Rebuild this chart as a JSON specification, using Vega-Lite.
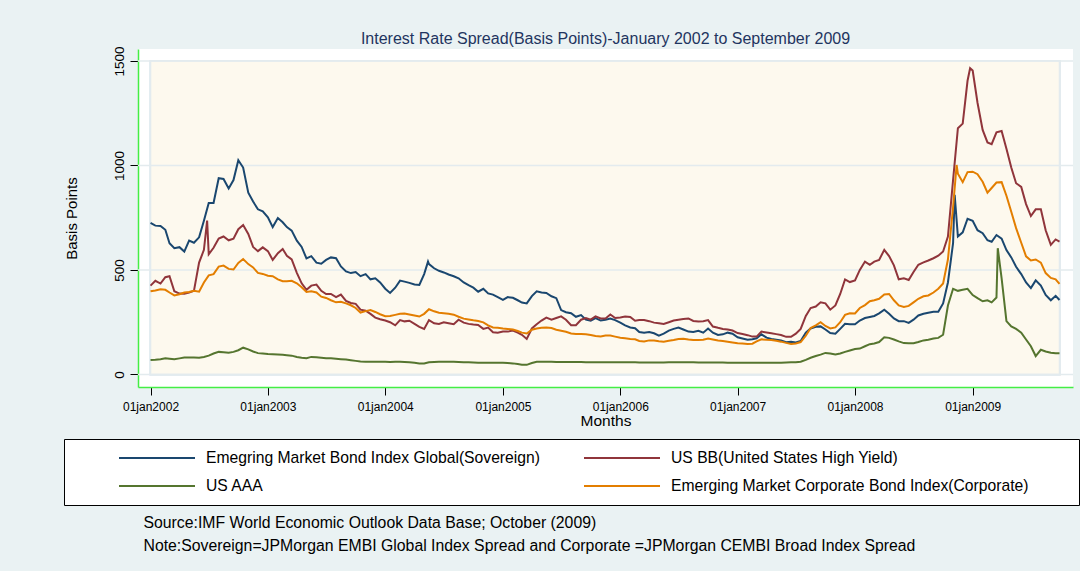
{
"$schema": "https://vega.github.io/schema/vega-lite/v6.json",
"width": 935, "height": 338,
"autosize": {"type": "none"},
"padding": {"left": 138, "top": 49, "right": 7, "bottom": 184},
"background": "#eaf2f3",
"title": {"text": "Interest Rate Spread(Basis Points)-January 2002 to September 2009", "fontSize": 16, "fontWeight": "normal", "color": "#1f3560", "font": "Liberation Sans", "anchor": "middle", "offset": -1},
"config": {"font": "Liberation Sans", "view": {"stroke": null, "fill": "white"}},
"data": {"values": [
{"d":"2002-01-01","e":725,"b":425,"a":69,"c":398},{"d":"2002-01-16","e":712,"b":448,"a":70,"c":402},
{"d":"2002-02-01","e":710,"b":435,"a":73,"c":408},{"d":"2002-02-16","e":692,"b":465,"a":77,"c":405},
{"d":"2002-03-01","e":628,"b":470,"a":75,"c":392},{"d":"2002-03-16","e":604,"b":398,"a":73,"c":378},
{"d":"2002-04-01","e":609,"b":387,"a":77,"c":384},{"d":"2002-04-16","e":588,"b":386,"a":81,"c":392},
{"d":"2002-05-01","e":640,"b":392,"a":81,"c":395},{"d":"2002-05-16","e":630,"b":400,"a":81,"c":400},
{"d":"2002-06-01","e":656,"b":535,"a":80,"c":396},{"d":"2002-06-16","e":735,"b":596,"a":84,"c":440},
{"d":"2002-06-26","b":736},
{"d":"2002-07-01","e":820,"b":575,"a":90,"c":474},{"d":"2002-07-16","e":820,"b":606,"a":100,"c":480},
{"d":"2002-08-01","e":939,"b":650,"a":108,"c":516},{"d":"2002-08-16","e":935,"b":660,"a":106,"c":521},
{"d":"2002-09-01","e":890,"b":642,"a":104,"c":505},{"d":"2002-09-16","e":930,"b":650,"a":108,"c":502},
{"d":"2002-10-01","e":1025,"b":695,"a":116,"c":534},{"d":"2002-10-16","e":990,"b":715,"a":128,"c":552},
{"d":"2002-11-01","e":870,"b":672,"a":120,"c":528},{"d":"2002-11-16","e":827,"b":610,"a":110,"c":512},
{"d":"2002-12-01","e":790,"b":590,"a":102,"c":486},{"d":"2002-12-16","e":780,"b":608,"a":100,"c":481},
{"d":"2003-01-01","e":752,"b":590,"a":98,"c":472},{"d":"2003-01-16","e":705,"b":548,"a":97,"c":470},
{"d":"2003-02-01","e":748,"b":580,"a":96,"c":455},{"d":"2003-02-16","e":728,"b":600,"a":94,"c":446},
{"d":"2003-03-01","e":705,"b":568,"a":92,"c":446},{"d":"2003-03-16","e":688,"b":550,"a":90,"c":448},
{"d":"2003-04-01","e":640,"b":486,"a":84,"c":436},{"d":"2003-04-16","e":610,"b":436,"a":80,"c":417},
{"d":"2003-05-01","e":555,"b":405,"a":78,"c":395},{"d":"2003-05-16","e":566,"b":425,"a":84,"c":398},
{"d":"2003-06-01","e":535,"b":430,"a":82,"c":392},{"d":"2003-06-16","e":530,"b":400,"a":80,"c":372},
{"d":"2003-07-01","e":548,"b":385,"a":78,"c":366},{"d":"2003-07-16","e":560,"b":385,"a":77,"c":355},
{"d":"2003-08-01","e":556,"b":370,"a":75,"c":345},{"d":"2003-08-16","e":517,"b":382,"a":73,"c":348},
{"d":"2003-09-01","e":493,"b":352,"a":71,"c":340},{"d":"2003-09-16","e":485,"b":342,"a":68,"c":331},
{"d":"2003-10-01","e":490,"b":338,"a":65,"c":318},{"d":"2003-10-16","e":470,"b":310,"a":62,"c":296},
{"d":"2003-11-01","e":480,"b":305,"a":61,"c":303},{"d":"2003-11-16","e":455,"b":290,"a":61,"c":308},
{"d":"2003-12-01","e":460,"b":272,"a":61,"c":299},{"d":"2003-12-16","e":440,"b":264,"a":61,"c":288},
{"d":"2004-01-01","e":410,"b":258,"a":61,"c":279},{"d":"2004-01-16","e":390,"b":250,"a":60,"c":280},
{"d":"2004-02-01","e":415,"b":235,"a":61,"c":285},{"d":"2004-02-16","e":449,"b":260,"a":61,"c":290},
{"d":"2004-03-01","e":444,"b":254,"a":60,"c":292},{"d":"2004-03-16","e":438,"b":257,"a":58,"c":287},
{"d":"2004-04-01","e":430,"b":242,"a":56,"c":282},{"d":"2004-04-16","e":428,"b":228,"a":53,"c":277},
{"d":"2004-05-01","e":480,"b":218,"a":52,"c":290},{"d":"2004-05-13","e":540},{"d":"2004-05-16","e":528,"b":260,"a":58,"c":312},
{"d":"2004-06-01","e":508,"b":245,"a":60,"c":302},{"d":"2004-06-16","e":496,"b":242,"a":61,"c":295},
{"d":"2004-07-01","e":488,"b":250,"a":61,"c":293},{"d":"2004-07-16","e":478,"b":245,"a":61,"c":290},
{"d":"2004-08-01","e":470,"b":240,"a":61,"c":286},{"d":"2004-08-16","e":460,"b":262,"a":60,"c":276},
{"d":"2004-09-01","e":440,"b":248,"a":59,"c":267},{"d":"2004-09-16","e":427,"b":242,"a":58,"c":263},
{"d":"2004-10-01","e":415,"b":239,"a":57,"c":259},{"d":"2004-10-16","e":396,"b":237,"a":56,"c":256},
{"d":"2004-11-01","e":410,"b":218,"a":56,"c":249},{"d":"2004-11-16","e":388,"b":224,"a":56,"c":235},
{"d":"2004-12-01","e":382,"b":202,"a":56,"c":225},{"d":"2004-12-16","e":370,"b":200,"a":56,"c":223},
{"d":"2005-01-01","e":357,"b":205,"a":56,"c":220},{"d":"2005-01-16","e":370,"b":205,"a":55,"c":218},
{"d":"2005-02-01","e":367,"b":210,"a":53,"c":215},{"d":"2005-02-16","e":355,"b":200,"a":50,"c":208},
{"d":"2005-03-01","e":344,"b":190,"a":47,"c":200},{"d":"2005-03-16","e":340,"b":170,"a":46,"c":196},
{"d":"2005-04-01","e":375,"b":220,"a":55,"c":214},{"d":"2005-04-16","e":398,"b":240,"a":61,"c":220},
{"d":"2005-05-01","e":392,"b":258,"a":61,"c":223},{"d":"2005-05-16","e":390,"b":272,"a":61,"c":225},
{"d":"2005-06-01","e":374,"b":262,"a":61,"c":222},{"d":"2005-06-16","e":365,"b":270,"a":60,"c":214},
{"d":"2005-07-01","e":308,"b":278,"a":60,"c":209},{"d":"2005-07-16","e":298,"b":262,"a":60,"c":204},
{"d":"2005-08-01","e":293,"b":236,"a":60,"c":196},{"d":"2005-08-16","e":276,"b":236,"a":60,"c":194},
{"d":"2005-09-01","e":284,"b":262,"a":60,"c":194},{"d":"2005-09-16","e":262,"b":270,"a":59,"c":192},
{"d":"2005-10-01","e":257,"b":262,"a":59,"c":189},{"d":"2005-10-16","e":270,"b":278,"a":59,"c":184},
{"d":"2005-11-01","e":258,"b":268,"a":59,"c":182},{"d":"2005-11-16","e":262,"b":268,"a":58,"c":186},
{"d":"2005-12-01","e":267,"b":287,"a":58,"c":186},{"d":"2005-12-16","e":260,"b":270,"a":58,"c":181},
{"d":"2006-01-01","e":248,"b":273,"a":58,"c":176},{"d":"2006-01-16","e":235,"b":277,"a":58,"c":173},
{"d":"2006-02-01","e":225,"b":275,"a":58,"c":170},{"d":"2006-02-16","e":221,"b":257,"a":58,"c":168},
{"d":"2006-03-01","e":203,"b":260,"a":57,"c":160},{"d":"2006-03-16","e":200,"b":260,"a":57,"c":158},
{"d":"2006-04-01","e":203,"b":255,"a":57,"c":163},{"d":"2006-04-16","e":197,"b":248,"a":57,"c":162},
{"d":"2006-05-01","e":186,"b":245,"a":57,"c":159},{"d":"2006-05-16","e":195,"b":242,"a":57,"c":157},
{"d":"2006-06-01","e":210,"b":250,"a":58,"c":161},{"d":"2006-06-16","e":218,"b":258,"a":58,"c":165},
{"d":"2006-07-01","e":224,"b":262,"a":58,"c":170},{"d":"2006-07-16","e":215,"b":265,"a":58,"c":171},
{"d":"2006-08-01","e":205,"b":268,"a":58,"c":167},{"d":"2006-08-16","e":203,"b":256,"a":58,"c":165},
{"d":"2006-09-01","e":209,"b":253,"a":57,"c":165},{"d":"2006-09-16","e":200,"b":255,"a":57,"c":166},
{"d":"2006-10-01","e":220,"b":260,"a":57,"c":172},{"d":"2006-10-16","e":200,"b":229,"a":57,"c":167},
{"d":"2006-11-01","e":189,"b":223,"a":57,"c":162},{"d":"2006-11-16","e":192,"b":218,"a":57,"c":160},
{"d":"2006-12-01","e":200,"b":215,"a":56,"c":157},{"d":"2006-12-16","e":195,"b":210,"a":56,"c":153},
{"d":"2007-01-01","e":178,"b":198,"a":56,"c":149},{"d":"2007-01-16","e":172,"b":194,"a":56,"c":148},
{"d":"2007-02-01","e":166,"b":188,"a":56,"c":146},{"d":"2007-02-16","e":168,"b":181,"a":56,"c":147},
{"d":"2007-03-01","e":173,"b":181,"a":56,"c":158},{"d":"2007-03-16","e":192,"b":205,"a":56,"c":168},
{"d":"2007-04-01","e":176,"b":201,"a":56,"c":166},{"d":"2007-04-16","e":170,"b":197,"a":56,"c":165},
{"d":"2007-05-01","e":166,"b":193,"a":56,"c":161},{"d":"2007-05-16","e":162,"b":189,"a":56,"c":157},
{"d":"2007-06-01","e":154,"b":180,"a":57,"c":151},{"d":"2007-06-16","e":156,"b":180,"a":58,"c":146},
{"d":"2007-07-01","e":153,"b":195,"a":58,"c":148},{"d":"2007-07-16","e":160,"b":218,"a":61,"c":155},
{"d":"2007-08-01","e":200,"b":280,"a":70,"c":185},{"d":"2007-08-16","e":220,"b":318,"a":80,"c":222},
{"d":"2007-09-01","e":228,"b":325,"a":88,"c":235},{"d":"2007-09-16","e":230,"b":345,"a":95,"c":250},
{"d":"2007-10-01","e":215,"b":340,"a":103,"c":232},{"d":"2007-10-16","e":198,"b":310,"a":100,"c":220},
{"d":"2007-11-01","e":195,"b":330,"a":95,"c":225},{"d":"2007-11-16","e":218,"b":385,"a":100,"c":250},
{"d":"2007-12-01","e":242,"b":455,"a":108,"c":285},{"d":"2007-12-16","e":240,"b":442,"a":115,"c":293},
{"d":"2008-01-01","e":240,"b":450,"a":122,"c":292},{"d":"2008-01-16","e":258,"b":500,"a":124,"c":318},
{"d":"2008-02-01","e":270,"b":540,"a":135,"c":332},{"d":"2008-02-16","e":275,"b":525,"a":145,"c":350},
{"d":"2008-03-01","e":280,"b":540,"a":148,"c":355},{"d":"2008-03-16","e":292,"b":548,"a":155,"c":362},
{"d":"2008-04-01","e":310,"b":596,"a":178,"c":383},{"d":"2008-04-16","e":290,"b":566,"a":175,"c":385},
{"d":"2008-05-01","e":268,"b":522,"a":167,"c":355},{"d":"2008-05-16","e":255,"b":455,"a":158,"c":330},
{"d":"2008-06-01","e":255,"b":460,"a":150,"c":323},{"d":"2008-06-16","e":247,"b":452,"a":149,"c":328},
{"d":"2008-07-01","e":262,"b":490,"a":149,"c":345},{"d":"2008-07-16","e":282,"b":525,"a":155,"c":362},
{"d":"2008-08-01","e":290,"b":536,"a":163,"c":374},{"d":"2008-08-16","e":295,"b":545,"a":166,"c":378},
{"d":"2008-09-01","e":300,"b":556,"a":172,"c":392},{"d":"2008-09-16","e":300,"b":568,"a":175,"c":410},
{"d":"2008-10-01","e":340,"b":588,"a":190,"c":435},{"d":"2008-10-16","e":440,"b":660,"a":330,"c":550},
{"d":"2008-11-01","e":628,"b":930,"a":410,"c":800},{"d":"2008-11-06","e":859},{"d":"2008-11-12","c":1002},
{"d":"2008-11-16","e":660,"b":1178,"a":400,"c":960},
{"d":"2008-12-01","e":680,"b":1200,"a":405,"c":920},{"d":"2008-12-16","e":745,"b":1405,"a":410,"c":968},
{"d":"2008-12-24","b":1465},
{"d":"2009-01-01","e":735,"b":1454,"a":380,"c":970},{"d":"2009-01-16","e":690,"b":1300,"a":365,"c":958},
{"d":"2009-02-01","e":676,"b":1170,"a":350,"c":922},{"d":"2009-02-16","e":642,"b":1110,"a":355,"c":870},
{"d":"2009-03-01","e":635,"b":1102,"a":345,"c":892},{"d":"2009-03-16","e":667,"b":1158,"a":368,"c":918},
{"d":"2009-03-20","a":604},
{"d":"2009-04-01","e":650,"b":1165,"a":460,"c":920},{"d":"2009-04-16","e":595,"b":1080,"a":255,"c":855},
{"d":"2009-05-01","e":560,"b":990,"a":230,"c":778},{"d":"2009-05-16","e":515,"b":915,"a":218,"c":700},
{"d":"2009-06-01","e":480,"b":897,"a":200,"c":630},{"d":"2009-06-16","e":440,"b":815,"a":167,"c":565},
{"d":"2009-07-01","e":413,"b":758,"a":135,"c":545},{"d":"2009-07-16","e":450,"b":790,"a":88,"c":550},
{"d":"2009-08-01","e":425,"b":790,"a":118,"c":535},{"d":"2009-08-16","e":380,"b":690,"a":110,"c":485},
{"d":"2009-09-01","e":355,"b":620,"a":104,"c":462},{"d":"2009-09-16","e":376,"b":646,"a":101,"c":455},
{"d":"2009-09-28","e":356,"b":636,"a":101,"c":433}
]},
"layer": [
{"mark": {"type": "rect", "fill": "#fdf9ee", "stroke": "#e3ebee", "strokeWidth": 1.5},
 "encoding": {
  "x": {"datum": {"year": 2002, "month": 1, "date": 1, "utc": true}, "type": "temporal", "axis": null,
        "scale": {"type": "utc", "domain": [{"year": 2001, "month": 11, "date": 23, "utc": true}, {"year": 2009, "month": 11, "date": 9, "utc": true}], "nice": false}},
  "x2": {"datum": {"year": 2009, "month": 9, "date": 28, "utc": true}},
  "y": {"datum": 0, "type": "quantitative", "scale": {"domain": [-60, 1557], "nice": false, "zero": false}},
  "y2": {"datum": 1500}
 }},
{"data": {"values": [{"g": 0}, {"g": 500}, {"g": 1000}, {"g": 1500}]},
 "mark": {"type": "rule", "color": "#e3ebee", "strokeWidth": 1.5},
 "encoding": {"y": {"field": "g", "type": "quantitative"}}},
{"transform": [
  {"fold": ["e", "b", "a", "c"], "as": ["k", "v"]},
  {"filter": "isValid(datum.v)"},
  {"lookup": "k", "from": {"data": {"values": [
    {"k": "e", "name": "Emegring Market Bond Index Global(Sovereign)"},
    {"k": "b", "name": "US BB(United States High Yield)"},
    {"k": "a", "name": "US AAA"},
    {"k": "c", "name": "Emerging Market Corporate Bond Index(Corporate)"}]}, "key": "k", "fields": ["name"]}}
 ],
 "mark": {"type": "line", "strokeWidth": 2},
 "encoding": {
  "x": {"field": "d", "type": "temporal",
        "scale": {"type": "utc", "domain": [{"year": 2001, "month": 11, "date": 23, "utc": true}, {"year": 2009, "month": 11, "date": 9, "utc": true}], "nice": false},
        "axis": {"orient": "bottom", "title": "Months", "titleFontSize": 15.5, "titleFontWeight": "normal", "titleColor": "#000", "titlePadding": 1,
                 "domainColor": "#44ee44", "domainWidth": 1.5, "tickColor": "#000", "tickSize": 8, "tickWidth": 1,
                 "labelFontSize": 12, "labelColor": "#000", "labelPadding": 6, "tickCount": {"interval": "year", "step": 1},
                 "labelExpr": "lower(utcFormat(datum.value, '%d%b%Y'))", "grid": false, "labelFlush": false, "labelOverlap": false}},
  "y": {"field": "v", "type": "quantitative",
        "scale": {"domain": [-60, 1557], "nice": false, "zero": false},
        "axis": {"values": [0, 500, 1000, 1500], "format": "d", "title": "Basis Points", "titleFontSize": 15, "titleFontWeight": "normal", "titleColor": "#000", "titlePadding": 33,
                 "domainColor": "#44ee44", "domainWidth": 1.5, "tickColor": "#000", "tickSize": 8,
                 "labelAngle": -90, "labelAlign": "center", "labelBaseline": "bottom", "labelFontSize": 13.5, "labelPadding": 4, "labelColor": "#000", "grid": false}},
  "color": {"field": "name", "type": "nominal",
            "scale": {"domain": ["Emegring Market Bond Index Global(Sovereign)", "US AAA", "US BB(United States High Yield)", "Emerging Market Corporate Bond Index(Corporate)"],
                      "range": ["#1a476f", "#55752f", "#90353b", "#e37e00"]},
            "legend": {"orient": "none", "legendX": -74, "legendY": 390, "columns": 2, "title": null,
                       "symbolType": "stroke", "symbolSize": 5776, "symbolStrokeWidth": 2, "symbolOffset": 43, "labelOffset": 10,
                       "labelFontSize": 15.7, "labelColor": "#000", "labelLimit": 700, "clipHeight": 16,
                       "labelExpr": "datum.label == 'Emerging Market Corporate Bond Index(Corporate)' ? datum.label + '\u00a0\u00a0\u00a0\u00a0\u00a0\u00a0\u00a0\u00a0\u00a0\u200b' : datum.label",
                       "fillColor": "white", "strokeColor": "#000", "padding": 11, "rowPadding": 12, "columnPadding": 0}}
 }},
{"mark": {"type": "point", "opacity": 0},
 "encoding": {
  "x": {"field": "d", "type": "temporal",
        "scale": {"type": "utc", "domain": [{"year": 2001, "month": 11, "date": 23, "utc": true}, {"year": 2009, "month": 11, "date": 9, "utc": true}], "nice": false},
        "axis": {"orient": "bottom", "domain": false, "ticks": false, "labels": false, "grid": false,
                 "title": ["Source:IMF World Economic Outlook Data Base; October (2009)", "Note:Sovereign=JPMorgan EMBI Global Index Spread and Corporate =JPMorgan CEMBI Broad Index Spread"],
                 "titleFontSize": 15.8, "titleFontWeight": "normal", "titleColor": "#000", "titleAnchor": "start", "titleAlign": "left", "titleBaseline": "top",
                 "titleX": 5, "titleY": 128, "titleLineHeight": 23, "titleAngle": 0}}
 }}
],
"resolve": {"axis": {"x": "independent"}}
}
